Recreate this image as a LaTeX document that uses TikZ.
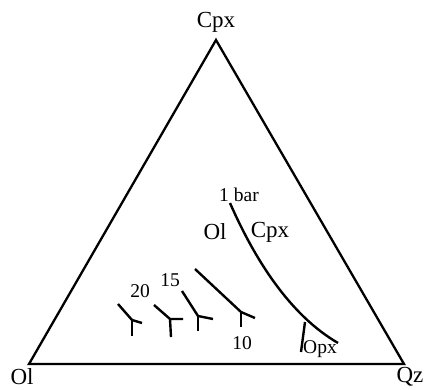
\documentclass[tikz,border=0pt]{standalone}
\usepackage{fontspec}
\setmainfont{Liberation Serif}
\begin{document}
\begin{tikzpicture}[x=1pt,y=-1pt,
  edge/.style={line width=2.3pt,line cap=butt},
  curve/.style={line width=2.4pt},
  big/.style={font=\fontsize{23}{23}\selectfont,inner sep=0pt},
  small/.style={font=\fontsize{19.5}{19.5}\selectfont,inner sep=0pt}]
\useasboundingbox (0,0) rectangle (424,390);
% triangle
\coordinate (A) at (216,40);
\coordinate (L) at (29,364);
\coordinate (R) at (404,364);
\draw[edge,line join=miter] (L) -- (A) -- (R) -- cycle;
\node[big] (tCpx) at (216,22) {Cpx};
\node[big] (tOl) at (22,377) {Ol};
\node[big] (tQz) at (410,377) {Qz};
% 1 bar curve
\coordinate (b0) at (230,203);
\coordinate (b1) at (338,343);
\coordinate (bj) at (305,322);
\coordinate (bo) at (301,352);
\draw[curve] (b0) .. controls (255,260) and (290,315) .. (b1);
\draw[curve] (bj) -- (bo);
\node[small] (l1bar) at (239,195) {1 bar};
\node[big] (lOl) at (215,232) {Ol};
\node[big] (lCpx) at (270,232) {Cpx};
\node[small] (lOpx) at (320,349) {Opx};
% pressure curves
\coordinate (p1t) at (118,304); \coordinate (p1j) at (132,320);
\coordinate (p1r) at (142,323); \coordinate (p1d) at (132,336);
\coordinate (p2t) at (154,305); \coordinate (p2j) at (170,319);
\coordinate (p2r) at (183,319); \coordinate (p2d) at (171,337);
\coordinate (p3t) at (182,291); \coordinate (p3j) at (198,316);
\coordinate (p3r) at (213,319); \coordinate (p3d) at (198,331);
\coordinate (p4t) at (195,269); \coordinate (p4j) at (241,312);
\coordinate (p4r) at (255,318); \coordinate (p4d) at (241,327);
\foreach \i in {1,2,3,4}{
  \draw[curve] (p\i t) -- (p\i j) -- (p\i r);
  \draw[curve] (p\i j) -- (p\i d);
}
\node[small] (l20) at (140,291) {20};
\node[small] (l15) at (170,280) {15};
\node[small] (l10) at (242,343) {10};
\end{tikzpicture}
\end{document}
